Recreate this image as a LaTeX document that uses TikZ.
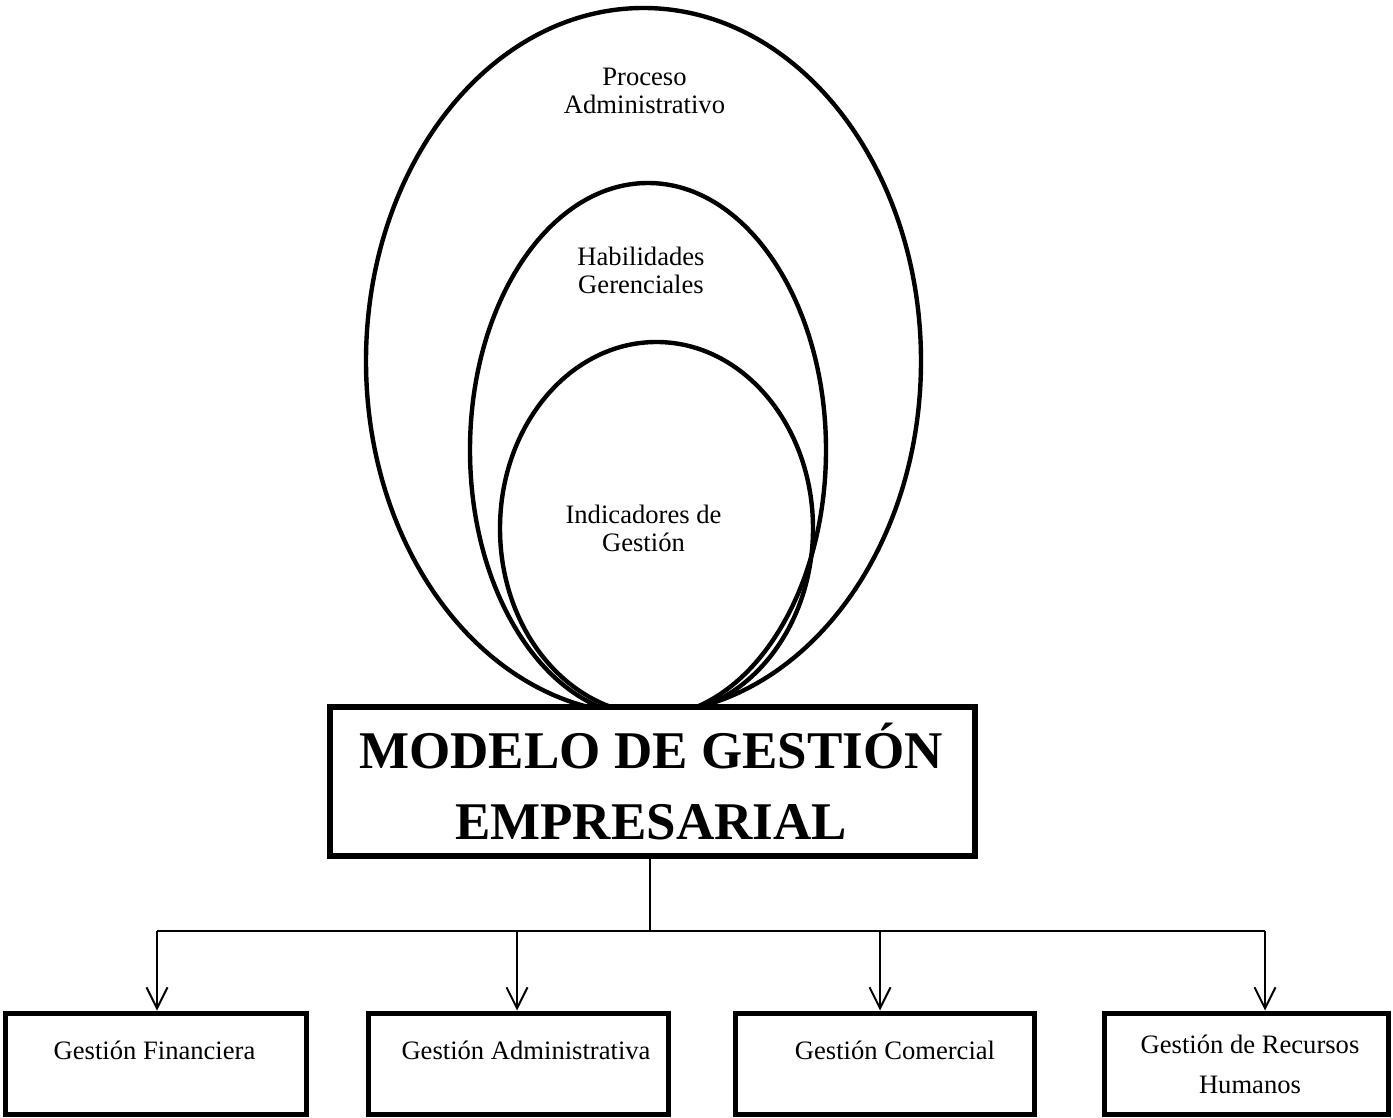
\documentclass[tikz,border=0pt]{standalone}
\usepackage{fontspec}
\setmainfont{Liberation Serif}
\usetikzlibrary{arrows.meta,shapes.geometric}
\newcommand\twoline[2]{\begin{tabular}[t]{@{}c@{}}#1\\#2\end{tabular}}
\begin{document}
\begin{tikzpicture}[x=0.5pt,y=-0.5pt,
  ring/.style={draw, ellipse, line width=2.2pt, inner sep=0pt},
  txt/.style={font=\fontsize{13.3}{14}\selectfont, anchor=base, inner sep=0pt},
  bigtxt/.style={font=\fontsize{26.5}{35.5}\selectfont\bfseries, anchor=base, inner sep=0pt},
  mainbox/.style={draw, fill=white, line width=2.8pt, inner sep=0pt},
  gbox/.style={draw, fill=white, line width=2.5pt, inner sep=0pt, minimum height=50.5pt},
  busline/.style={line width=1pt},
  arr/.style={line width=1pt, -{Straight Barb[length=10.5pt,width=10.5pt]}}]
\useasboundingbox (0,0) rectangle (1393,1118);

% nested rings
\node[ring, minimum width=277.5pt, minimum height=353pt] (outer) at (643.5,361) {};
\node[ring, minimum width=178pt, minimum height=267pt] (middle) at (648,450) {};
\node[ring, minimum width=156.5pt, minimum height=186.5pt] (inner) at (656.5,528.5) {};

\node[txt] (proc) at (644.5,86) {\twoline{Proceso}{Administrativo}};
\node[txt] (hab) at (641,266) {\twoline{Habilidades}{Gerenciales}};
\node[txt] (ind) at (643.5,523) {\twoline{Indicadores de}{Gestión}};

% central box
\node[mainbox, minimum width=322.5pt, minimum height=74.5pt] (model) at (652.5,781.5) {};
\node[bigtxt] (modeltxt) at (651,768) {\twoline{MODELO DE GESTIÓN}{EMPRESARIAL}};

% lower boxes
\node[gbox, minimum width=150.5pt] (f1) at (155.5,1063.5) {};
\node[gbox, minimum width=150pt] (f2) at (518,1063.5) {};
\node[gbox, minimum width=149.5pt] (f3) at (884.5,1063.5) {};
\node[gbox, minimum width=142pt] (f4) at (1246,1063.5) {};

\node[txt] (t1) at (154.5,1059) {Gestión Financiera};
\node[txt] (t2) at (526,1059) {Gestión Administrativa};
\node[txt] (t3) at (895,1059) {Gestión Comercial};
\node[txt, font=\fontsize{13.3}{20}\selectfont] (t4) at (1250,1053) {\twoline{Gestión de Recursos}{Humanos}};

% connectors
\coordinate (hub) at (650,931);
\coordinate (a1) at (157,931);
\coordinate (a2) at (517,931);
\coordinate (a3) at (880,931);
\coordinate (a4) at (1265,931);
\draw[line width=1.3pt] (model.south -| hub) -- (hub);
\draw[busline] (a1) -- (a4);
\draw[arr] (a1) -- (a1 |- f1.north);
\draw[arr] (a2) -- (a2 |- f2.north);
\draw[arr] (a3) -- (a3 |- f3.north);
\draw[arr] (a4) -- (a4 |- f4.north);
\end{tikzpicture}
\end{document}
